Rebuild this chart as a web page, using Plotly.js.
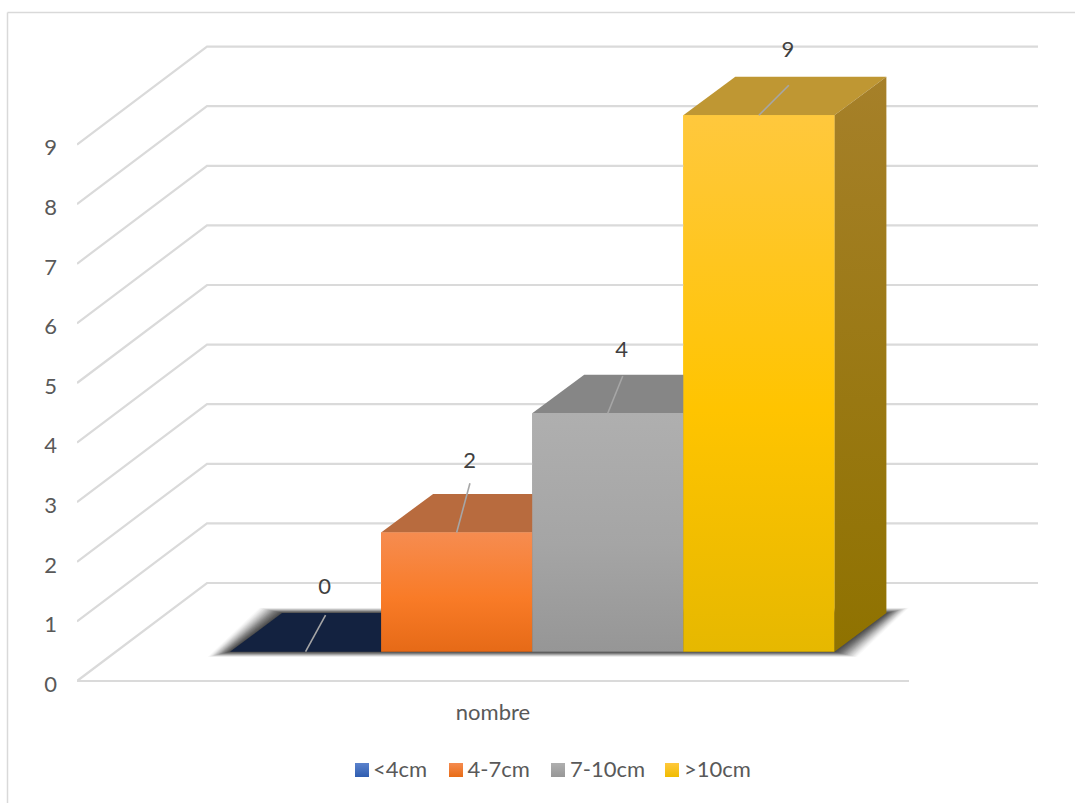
<!DOCTYPE html>
<html>
<head>
<meta charset="utf-8">
<script src="https://cdn.plot.ly/plotly-3.0.1.min.js"></script>
<style>html,body{margin:0;padding:0;background:#fff}#chart{width:1075px;height:803px}</style>
</head>
<body>
<div id="chart"></div>
<script>
// Chart data
const categoryLabel = 'nombre';
const seriesNames = ['<4cm', '4-7cm', '7-10cm', '>10cm'];
const seriesValues = [0, 2, 4, 9];
const valueTicks = [0, 1, 2, 3, 4, 5, 6, 7, 8, 9];

// Series colours
const swatchTop = ['#5B82CC', '#F58B4F', '#AFAFAF', '#FFC83D'];
const swatchBottom = ['#2F5DB0', '#E86C16', '#979797', '#F0BC00'];
const frontStops = [
  ['#5B82CC', '#4472C4', '#2F5DB0'],
  ['#F68C50', '#F97B27', '#E66A17'],
  ['#AFAFAF', '#A5A5A5', '#969696'],
  ['#FFC83D', '#FFC400', '#E6B800']
];
const topColors = ['#132240', '#B86B3E', '#868686', '#BF9733'];
const sideColors = [['#132240', '#132240'], ['#A0552A', '#8C4A12'], ['#7A7A7A', '#666666'], ['#A68029', '#8F7200']];

// Oblique projection, expressed in axis units (one bar is one x unit)
const PX_PER_X = 151.1;
const PX_PER_VALUE = 59.6;
const px = dx => dx / PX_PER_X;
const pv = dy => dy / PX_PER_VALUE;
const BAR_DEPTH_X = px(52);
const BAR_DEPTH_Y = pv(38.6);
const WALL_DEPTH_X = px(130);
const WALL_DEPTH_Y = pv(98);
const FRONT_LEFT = px(-153);
const FRONT_RIGHT = px(679);
const BACK_RIGHT = px(808);
const FLOOR = pv(29.3);

// Canvas proportions
const WIDTH = 1075, HEIGHT = 803, LEFT = 77, RIGHT = 37, BASELINE = 681;
const plotWidth = WIDTH - LEFT - RIGHT;
const FONT = 'Lato, "Open Sans", sans-serif';

// Leader line tips and data label positions relative to each bar's top front centre
const leaderOffsets = [[20, 36.5], [13.3, 49.3], [15, 37.3], [30, 30]];
const labelOffsets = [[19, 63], [13, 70], [14, 62], [29, 64]];

// Legend row placement
const legendCentres = [132, 226, 328, 442];
const legendTextStarts = [143, 237.5, 340, 454];
const LEGEND_Y = pv(-89);
const LEGEND_TEXT_Y = pv(-90);

const traces = [];

// Back wall, side wall and floor lines
const wallX = [], wallY = [];
valueTicks.forEach(v => {
  wallX.push(FRONT_LEFT, FRONT_LEFT + WALL_DEPTH_X, BACK_RIGHT, null);
  wallY.push(v, v + WALL_DEPTH_Y, v + WALL_DEPTH_Y, null);
});
wallX.push(FRONT_LEFT, FRONT_RIGHT);
wallY.push(0, 0);
traces.push({
  type: 'scatter', mode: 'lines', x: wallX, y: wallY, hoverinfo: 'skip', showlegend: false,
  line: {color: '#DADADA', width: 2.2, simplify: false}
});

// Soft shadow under the bars, built from stacked translucent outlines that darken inwards
const barCount = seriesValues.length;
const shadowSteps = 18;
for (let k = shadowSteps; k >= 0; k--) {
  const gx = px(1.25 * k), gy = pv(0.3 * k);
  const alpha = 0.025 + 0.13 * (shadowSteps - k) / shadowSteps;
  traces.push({
    type: 'scatter', mode: 'lines', fill: 'toself', hoverinfo: 'skip', showlegend: false,
    x: [0 - gx, BAR_DEPTH_X - gx, barCount + BAR_DEPTH_X + gx, barCount + gx, 0 - gx],
    y: [FLOOR - gy, FLOOR + BAR_DEPTH_Y + gy, FLOOR + BAR_DEPTH_Y + gy, FLOOR - gy, FLOOR - gy],
    line: {width: 0}, fillcolor: 'rgba(40,40,40,' + alpha.toFixed(3) + ')'
  });
}

// Front faces as plain bars, kept beneath the shaded faces
seriesNames.forEach((name, i) => {
  traces.push({
    type: 'bar', name: name, x: [i + 0.5], y: [seriesValues[i]], base: FLOOR, width: 1,
    marker: {color: frontStops[i][1], line: {width: 0}}, showlegend: false
  });
});

// Top, side and shaded front of every bar, left to right
seriesValues.forEach((v, i) => {
  const top = FLOOR + v;
  traces.push({
    type: 'scatter', mode: 'lines', fill: 'toself', hoverinfo: 'skip', showlegend: false,
    x: [i, i + BAR_DEPTH_X, i + 1 + BAR_DEPTH_X, i + 1, i],
    y: [top, top + BAR_DEPTH_Y, top + BAR_DEPTH_Y, top, top],
    line: {width: 0}, fillcolor: topColors[i]
  });
  if (v > 0) {
    traces.push({
      type: 'scatter', mode: 'lines', fill: 'toself', hoverinfo: 'skip', showlegend: false,
      x: [i + 1, i + 1 + BAR_DEPTH_X, i + 1 + BAR_DEPTH_X, i + 1, i + 1],
      y: [top, top + BAR_DEPTH_Y, FLOOR + BAR_DEPTH_Y, FLOOR, top],
      line: {width: 0},
      fillgradient: {type: 'vertical', colorscale: [[0, sideColors[i][1]], [1, sideColors[i][0]]]}
    });
    traces.push({
      type: 'scatter', mode: 'lines', fill: 'toself', hoverinfo: 'skip', showlegend: false,
      x: [i, i + 1, i + 1, i, i],
      y: [top, top, FLOOR, FLOOR, top],
      line: {width: 0},
      fillgradient: {
        type: 'vertical',
        colorscale: [[0, frontStops[i][2]], [0.45, frontStops[i][1]], [1, frontStops[i][0]]]
      }
    });
  }
});

// Leader lines and data labels
seriesValues.forEach((v, i) => {
  const cx = i + 0.5, top = FLOOR + v;
  traces.push({
    type: 'scatter', mode: 'lines', hoverinfo: 'skip', showlegend: false,
    x: [cx, cx + px(leaderOffsets[i][0])],
    y: [top, top + pv(leaderOffsets[i][1])],
    line: {color: '#A6A6A6', width: 1.6}
  });
});
traces.push({
  type: 'scatter', mode: 'text', hoverinfo: 'skip', showlegend: false,
  x: seriesValues.map((v, i) => i + 0.5 + px(labelOffsets[i][0])),
  y: seriesValues.map((v, i) => FLOOR + v + pv(labelOffsets[i][1])),
  text: seriesValues.map(String), textposition: 'middle center',
  textfont: {family: FONT, size: 22, color: '#404040'}
});

// Legend row: gradient squares with their series names
seriesNames.forEach((name, i) => {
  traces.push({
    type: 'scatter', mode: 'markers', cliponaxis: false, hoverinfo: 'skip', showlegend: false,
    x: [px(legendCentres[i])], y: [LEGEND_Y],
    marker: {
      symbol: 'square', size: 14, color: swatchTop[i], line: {width: 0},
      gradient: {type: 'vertical', color: swatchBottom[i]}
    }
  });
  traces.push({
    type: 'scatter', mode: 'text', cliponaxis: false, hoverinfo: 'skip', showlegend: false,
    x: [px(legendTextStarts[i])], y: [LEGEND_TEXT_Y], text: [name], textposition: 'middle right',
    textfont: {family: FONT, size: 22, color: '#595959'}
  });
});

const paperX = p => (p - LEFT) / plotWidth;
const paperY = p => (HEIGHT - p) / HEIGHT;

const layout = {
  width: WIDTH, height: HEIGHT,
  margin: {l: LEFT, r: RIGHT, t: 0, b: 0, pad: 0},
  paper_bgcolor: '#ffffff', plot_bgcolor: 'rgba(0,0,0,0)',
  showlegend: false, barmode: 'overlay', hovermode: false,
  font: {family: FONT, size: 22, color: '#595959'},
  xaxis: {
    range: [FRONT_LEFT, BACK_RIGHT], showgrid: false, zeroline: false, showline: false, ticks: '',
    anchor: 'free', position: paperY(BASELINE),
    tickmode: 'array', tickvals: [(FRONT_LEFT + FRONT_RIGHT) / 2], ticktext: [categoryLabel],
    ticklabelstandoff: 16, fixedrange: true
  },
  yaxis: {
    range: [pv(BASELINE - HEIGHT), pv(BASELINE)], showgrid: false, zeroline: false, showline: false, ticks: '',
    tickmode: 'array', tickvals: valueTicks, ticktext: valueTicks.map(String),
    ticklabelstandoff: 19, ticklabelshift: 3, fixedrange: true
  },
  shapes: [
    {type: 'line', xref: 'paper', yref: 'paper', x0: paperX(7.5), x1: paperX(WIDTH), y0: paperY(12.5), y1: paperY(12.5),
      line: {color: '#D9D9D9', width: 1.5}},
    {type: 'line', xref: 'paper', yref: 'paper', x0: paperX(7.5), x1: paperX(7.5), y0: 0, y1: paperY(12.5),
      line: {color: '#D9D9D9', width: 1.5}}
  ]
};

Plotly.newPlot('chart', traces, layout, {displayModeBar: false, responsive: false});
</script>
</body>
</html>
